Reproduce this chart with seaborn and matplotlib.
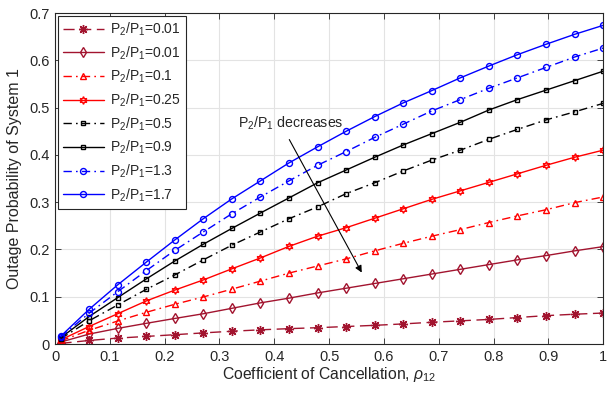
import numpy as np
import pandas as pd
import matplotlib
matplotlib.use("Agg")
import matplotlib.pyplot as plt
import seaborn as sns

rho = [0.01, 0.0621, 0.1142, 0.1663, 0.2184, 0.2705, 0.3226, 0.3747, 0.4268, 0.4789,
       0.5311, 0.5832, 0.6353, 0.6874, 0.7395, 0.7916, 0.8437, 0.8958, 0.9479, 1.0]

labels = ["P$_2$/P$_1$=0.01", "P$_2$/P$_1$=0.01", "P$_2$/P$_1$=0.1", "P$_2$/P$_1$=0.25",
          "P$_2$/P$_1$=0.5", "P$_2$/P$_1$=0.9", "P$_2$/P$_1$=1.3", "P$_2$/P$_1$=1.7"]

y_star_001 = [0.0012, 0.0075, 0.0125, 0.016, 0.0197, 0.0235, 0.027, 0.030, 0.0325, 0.0345,
              0.037, 0.0395, 0.0425, 0.046, 0.049, 0.052, 0.056, 0.060, 0.063, 0.0655]
y_diam_001 = [0.004, 0.021, 0.033, 0.0437, 0.054, 0.064, 0.0755, 0.087, 0.097, 0.108,
              0.118, 0.128, 0.138, 0.148, 0.158, 0.168, 0.178, 0.187, 0.197, 0.206]
y_01 = [0.0065, 0.029, 0.0486, 0.067, 0.084, 0.0995, 0.116, 0.133, 0.150, 0.165,
        0.180, 0.197, 0.213, 0.228, 0.242, 0.257, 0.271, 0.284, 0.299, 0.311]
y_025 = [0.0085, 0.037, 0.064, 0.091, 0.114, 0.1355, 0.159, 0.182, 0.2065, 0.228,
         0.246, 0.266, 0.286, 0.306, 0.324, 0.342, 0.360, 0.378, 0.395, 0.410]
y_05 = [0.011, 0.049, 0.0825, 0.1155, 0.146, 0.178, 0.209, 0.237, 0.265, 0.290,
        0.318, 0.341, 0.366, 0.389, 0.410, 0.433, 0.454, 0.474, 0.491, 0.509]
y_09 = [0.013, 0.058, 0.098, 0.1375, 0.1755, 0.211, 0.2445, 0.277, 0.309, 0.341,
        0.368, 0.395, 0.421, 0.445, 0.469, 0.495, 0.517, 0.537, 0.557, 0.577]
y_13 = [0.0145, 0.065, 0.1105, 0.155, 0.198, 0.237, 0.2755, 0.311, 0.345, 0.378,
        0.407, 0.437, 0.465, 0.493, 0.517, 0.541, 0.563, 0.585, 0.607, 0.626]
y_17 = [0.016, 0.0733, 0.125, 0.173, 0.220, 0.265, 0.307, 0.345, 0.383, 0.417,
        0.450, 0.481, 0.510, 0.536, 0.563, 0.588, 0.612, 0.634, 0.655, 0.674]

series = [y_star_001, y_diam_001, y_01, y_025, y_05, y_09, y_13, y_17]

dark_red = "#A2142F"
styles = [
    dict(color=dark_red, ls=(0, (8, 4)), marker=(8, 2, 0), ms=6.5),
    dict(color=dark_red, ls="-", marker="d", ms=5),
    dict(color="#FF0000", ls=(0, (6, 3, 1.2, 3)), marker="^", ms=5),
    dict(color="#FF0000", ls="-", marker=(6, 1, 0), ms=5.5),
    dict(color="#000000", ls=(0, (6, 3, 1.2, 3)), marker="s", ms=3.5),
    dict(color="#000000", ls="-", marker="s", ms=3.5),
    dict(color="#0000FF", ls=(0, (6, 3, 1.2, 3)), marker="o", ms=4.3),
    dict(color="#0000FF", ls="-", marker="o", ms=4.3),
]

sns.set_theme(style="whitegrid")
plt.rcParams['font.family'] = ['Liberation Sans', 'DejaVu Sans']
plt.rcParams['mathtext.fontset'] = 'custom'
plt.rcParams['mathtext.rm'] = 'Liberation Sans'
plt.rcParams['mathtext.it'] = 'Liberation Sans:italic'

fig = plt.figure(figsize=(6.08, 3.96), dpi=100)
ax = fig.add_axes([0.0905, 0.1313, 0.9015, 0.8357])

for lab, ys, st in zip(labels, series, styles):
    df = pd.DataFrame({"rho": rho, "p": ys})
    sns.lineplot(data=df, x="rho", y="p", ax=ax, color=st["color"], linestyle=st["ls"],
                 marker=st["marker"], markersize=st["ms"], markerfacecolor="none",
                 markeredgecolor=st["color"], markeredgewidth=1.0, linewidth=1.0,
                 label=lab)

ax.set_xlim(0, 1)
ax.set_ylim(0, 0.7)
ax.set_xticks(np.arange(0, 1.01, 0.1))
ax.set_xticklabels(["0", "0.1", "0.2", "0.3", "0.4", "0.5", "0.6", "0.7", "0.8", "0.9", "1"])
ax.set_yticks(np.arange(0, 0.71, 0.1))
ax.set_yticklabels(["0", "0.1", "0.2", "0.3", "0.4", "0.5", "0.6", "0.7"])
ax.grid(True, color="#e3e3e3", linewidth=0.8)
for s in ax.spines.values():
    s.set_color("#262626")
    s.set_linewidth(0.8)
    s.set_visible(True)
ax.tick_params(direction="in", length=4, width=0.6, colors="#262626", labelsize=10.5,
               top=True, right=True, bottom=True, left=True, pad=4)
ax.set_xlabel("Coefficient of Cancellation, $\\rho_{12}$", fontsize=11.3, color="#262626", labelpad=1)
ax.set_ylabel("Outage Probability of System 1", fontsize=11.5, color="#262626", labelpad=5)

leg = ax.legend(loc="upper left", fontsize=10, frameon=True, fancybox=False,
                edgecolor="#262626", framealpha=1, handlelength=3.0, borderpad=0.35,
                labelspacing=0.45, handletextpad=0.4, borderaxespad=0.2)
leg.get_frame().set_linewidth(0.8)

ax.annotate("", xy=(0.562, 0.146), xytext=(0.425, 0.4376),
            arrowprops=dict(arrowstyle="-|>", color="black", lw=0.8, mutation_scale=10))
ax.text(0.334, 0.467, "P$_2$/P$_1$ decreases", fontsize=10.2, color="#262626",
        ha="left", va="center")

fig.savefig("out.png", dpi=100)
